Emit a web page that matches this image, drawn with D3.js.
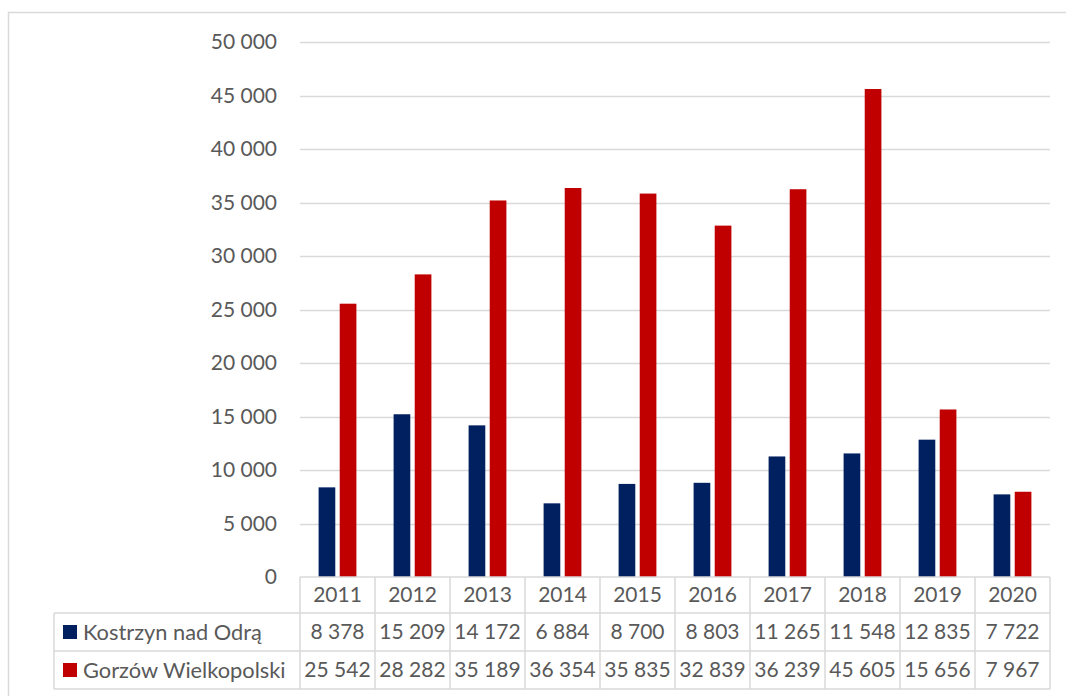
<!DOCTYPE html>
<html><head><meta charset="utf-8">
<script src="https://cdn.jsdelivr.net/npm/d3@7"></script>
<style>html,body{margin:0;padding:0;background:#fff;}svg{display:block;}</style>
</head><body>
<svg id="chart" width="1066" height="696"></svg>
<script>
const years = ["2011","2012","2013","2014","2015","2016","2017","2018","2019","2020"];
const seriesNames = ["Kostrzyn nad Odrą","Gorzów Wielkopolski"];
const kostrzyn = [8378,15209,14172,6884,8700,8803,11265,11548,12835,7722];
const gorzow = [25542,28282,35189,36354,35835,32839,36239,45605,15656,7967];
const yTicks = [0,5000,10000,15000,20000,25000,30000,35000,40000,45000,50000];
const colors = ["#002060","#C00000"];

const seriesValues = [kostrzyn, gorzow];
const svg = d3.select("#chart");
const font = "Lato, 'Open Sans', sans-serif";
const fs = 21;
const txt = "#595959";
const grid = "#D9D9D9";

// outer border
svg.append("rect").attr("x",8.5).attr("y",12.5).attr("width",1070).attr("height",700)
  .attr("fill","none").attr("stroke",grid).attr("stroke-width",1.5);

const plotL = 300, plotR = 1050, plotT = 42, plotB = 577;
const x0 = d3.scaleBand().domain(years).range([plotL, plotR]).padding(0);
const x1 = d3.scaleBand().domain(seriesNames).range([18.6, x0.bandwidth()-18.6]).paddingInner(0.21);
const y = d3.scaleLinear().domain([0,50000]).range([plotB, plotT]);
const fmt = v => d3.format(",")(v).replace(/,/g," ");

// gridlines
svg.append("g").selectAll("line").data(yTicks.filter(t=>t>0)).join("line")
  .attr("x1",plotL).attr("x2",plotR)
  .attr("y1",d=>Math.round(y(d))+0.5).attr("y2",d=>Math.round(y(d))+0.5)
  .attr("stroke",grid).attr("stroke-width",1.5);

// y labels
svg.append("g").selectAll("text").data(yTicks).join("text")
  .attr("x",277).attr("y",d=>y(d)).attr("dy","0.35em")
  .attr("text-anchor","end").attr("font-family",font).attr("font-size",fs).attr("fill",txt)
  .text(d=>d===0?"0":fmt(d));

// bars
const groups = svg.append("g").selectAll("g").data(years).join("g")
  .attr("transform",d=>`translate(${x0(d)},0)`);
groups.selectAll("rect").data((d,i)=>seriesNames.map((s,j)=>({s,v:seriesValues[j][i],c:colors[j]}))).join("rect")
  .attr("x",d=>x1(d.s)).attr("width",x1.bandwidth())
  .attr("y",d=>y(d.v)).attr("height",d=>y(0)-y(d.v)).attr("fill",d=>d.c);

// data table
const tableL = 54, rowH = [577, 613, 651, 689];
const tg = svg.append("g").attr("stroke",grid).attr("stroke-width",1.5).attr("fill","none");
tg.append("line").attr("x1",plotL).attr("x2",plotR).attr("y1",rowH[0]).attr("y2",rowH[0]);
[rowH[1],rowH[2],rowH[3]].forEach(yy=>tg.append("line").attr("x1",tableL).attr("x2",plotR).attr("y1",yy).attr("y2",yy));
const vx = years.map(d=>x0(d)).concat([plotR]);
vx.forEach(xx=>tg.append("line").attr("x1",xx).attr("x2",xx).attr("y1",rowH[0]).attr("y2",rowH[3]));
tg.append("line").attr("x1",tableL).attr("x2",tableL).attr("y1",rowH[1]).attr("y2",rowH[3]);

// year header
svg.append("g").selectAll("text").data(years).join("text")
  .attr("x",d=>x0(d)+x0.bandwidth()/2).attr("y",(rowH[0]+rowH[1])/2).attr("dy","0.35em")
  .attr("text-anchor","middle").attr("font-family",font).attr("font-size",fs).attr("fill",txt)
  .text(d=>d);

// rows
seriesNames.forEach((name,j)=>{
  const yc = (rowH[j+1]+rowH[j+2])/2;
  svg.append("rect").attr("x",63).attr("y",yc-7).attr("width",14).attr("height",14).attr("fill",colors[j]);
  svg.append("text").attr("x",83).attr("y",yc).attr("dy","0.35em")
    .attr("font-family",font).attr("font-size",21.8).attr("fill",txt).text(name);
  svg.append("g").selectAll("text").data(seriesValues[j]).join("text")
    .attr("x",(d,i)=>x0(years[i])+x0.bandwidth()/2).attr("y",yc).attr("dy","0.35em")
    .attr("text-anchor","middle").attr("font-family",font).attr("font-size",fs).attr("fill",txt)
    .text(d=>fmt(d));
});
</script>
</body></html>
